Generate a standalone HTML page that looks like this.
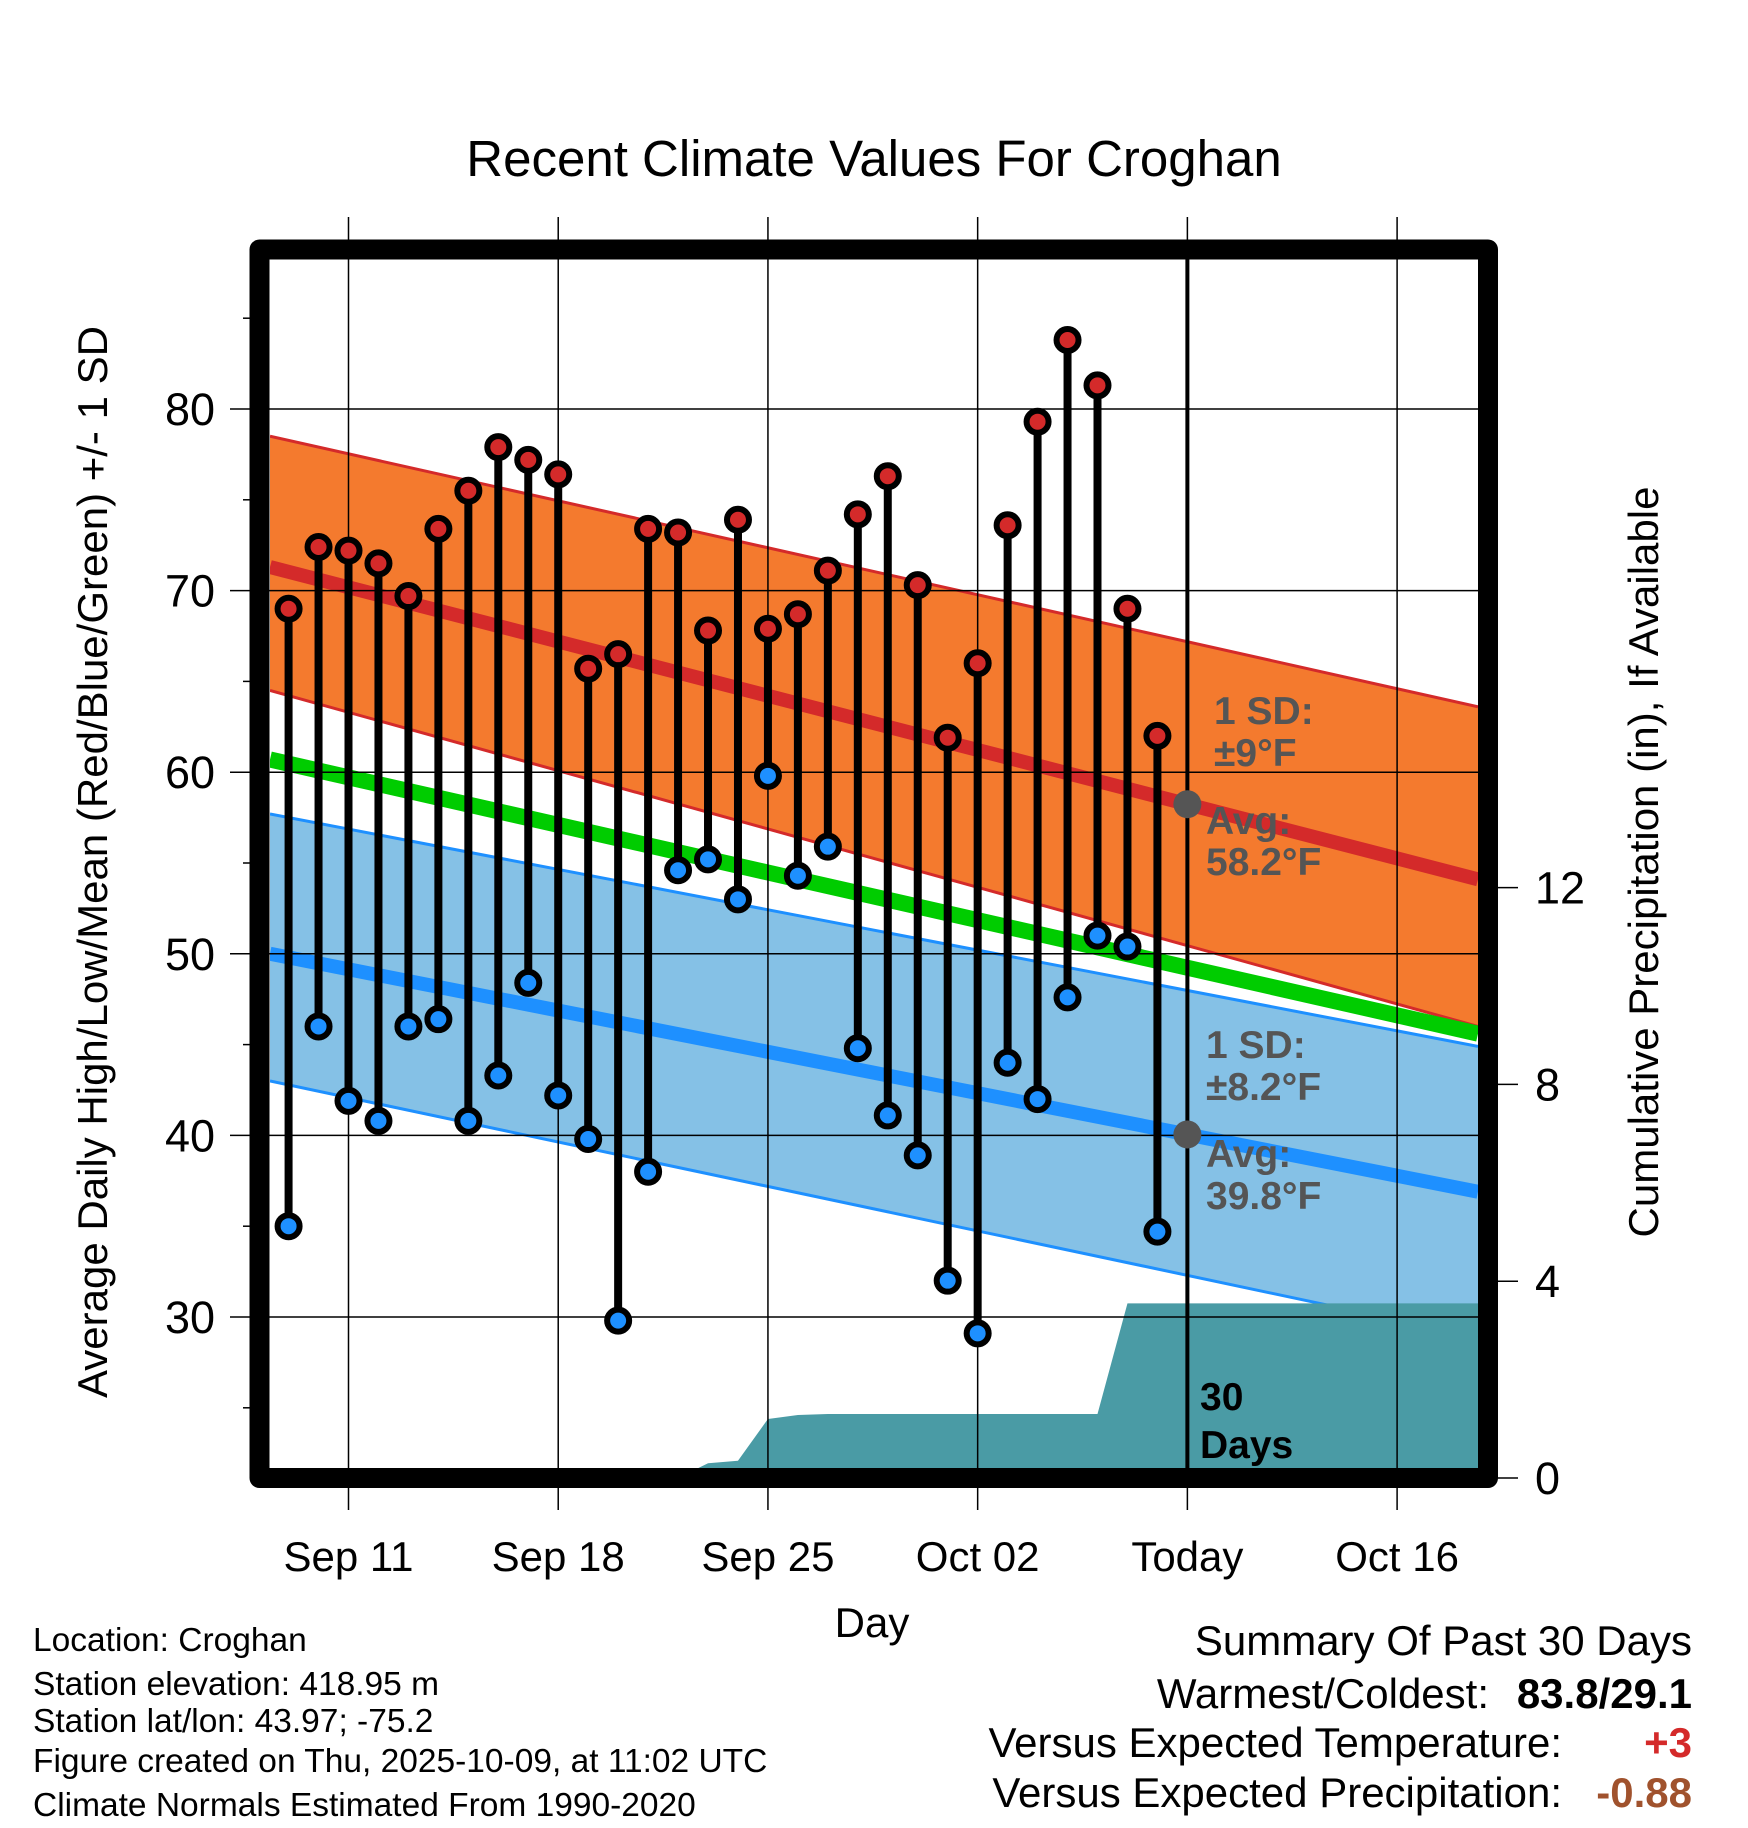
<!DOCTYPE html>
<html><head><meta charset="utf-8"><style>
html,body{margin:0;padding:0;background:#fff;}
svg{display:block;font-family:"Liberation Sans",Arial,sans-serif;}
</style></head><body>
<svg id="chart" width="1748" height="1828" viewBox="0 0 1748 1828" xmlns="http://www.w3.org/2000/svg">
<defs><clipPath id="plotclip"><rect x="270" y="260" width="1208" height="1208"/></clipPath></defs>
<text x="874" y="176" font-size="51" text-anchor="middle">Recent Climate Values For Croghan</text>
<g id="bands" clip-path="url(#plotclip)"></g>
<g id="grid"></g>
<g id="marks"></g>
<g id="axes"></g>
<rect x="259.5" y="249.5" width="1228.5" height="1228.5" fill="none" stroke="#000" stroke-width="20" stroke-linejoin="round"/>
<text transform="translate(107,862) rotate(-90)" font-size="42" text-anchor="middle">Average Daily High/Low/Mean (Red/Blue/Green) +/- 1 SD</text>
<text transform="translate(1658,862) rotate(-90)" font-size="42" text-anchor="middle">Cumulative Precipitation (in), If Available</text>
<text x="872" y="1637" font-size="42" text-anchor="middle">Day</text>
<g font-size="33.5">
<text x="33" y="1651">Location: Croghan</text>
<text x="33" y="1695">Station elevation: 418.95 m</text>
<text x="33" y="1732">Station lat/lon: 43.97; -75.2</text>
<text x="33" y="1772">Figure created on Thu, 2025-10-09, at 11:02 UTC</text>
<text x="33" y="1816">Climate Normals Estimated From 1990-2020</text>
</g>
<g font-size="42" text-anchor="end">
<text x="1692" y="1655">Summary Of Past 30 Days</text>
<text x="1489" y="1708">Warmest/Coldest:</text>
<text x="1692" y="1708" font-weight="bold">83.8/29.1</text>
<text x="1562" y="1757">Versus Expected Temperature:</text>
<text x="1692" y="1757" font-weight="bold" fill="#d42a2a">+3</text>
<text x="1562" y="1807">Versus Expected Precipitation:</text>
<text x="1692" y="1807" font-weight="bold" fill="#a0522d">-0.88</text>
</g>
</svg>
<script>
// data (day offsets relative to Sep 11)
const days = [-2,-1,0,1,2,3,4,5,6,7,8,9,10,11,12,13,14,15,16,17,18,19,20,21,22,23,24,25,26,27];
const highs = [69,72.4,72.2,71.5,69.7,73.4,75.5,77.9,77.2,76.4,65.7,66.5,73.4,73.2,67.8,73.9,67.9,68.7,71.1,74.2,76.3,70.3,61.9,66,73.6,79.3,83.8,81.3,69,62];
const lows = [35,46,41.9,40.8,46,46.4,40.8,43.3,48.4,42.2,39.8,29.8,38,54.6,55.2,53,59.8,54.3,55.9,44.8,41.1,38.9,32,29.1,44,42,47.6,51,50.4,34.7];
const precipDays = [11,12,13,14,15,16,17,18,19,20,21,22,23,24,25,26,27,28];
const precipCum = [0,0.3,0.35,1.2,1.28,1.3,1.3,1.3,1.3,1.3,1.3,1.3,1.3,1.3,1.3,3.55,3.55,3.55];
const normEdgeDays = [-2.62, 37.7];
const normHighUpper = [78.5, 63.6];
const normHigh = [71.3, 54.1];
const normHighLower = [64.5, 46.0];
const normMean = [60.7, 45.6];
const normLowUpper = [57.7, 44.9];
const normLow = [50.0, 36.9];
const normLowLower = [43.0, 28.9];
const yTicks = [30,40,50,60,70,80];
const y2Ticks = [0,4,8,12];
const xTickDays = [0,7,14,21,28,35];
const xTickLabels = ["Sep 11","Sep 18","Sep 25","Oct 02","Today","Oct 16"];
const todayDay = 28;

const NS="http://www.w3.org/2000/svg";
const X=d=>348.5+d*29.96;
const Y=v=>409+(80-v)*18.16;
const P=p=>1478-p*49.2;
function mk(tag,attrs,parent){const e=document.createElementNS(NS,tag);for(const k in attrs)e.setAttribute(k,attrs[k]);parent.appendChild(e);return e;}
const bands=document.getElementById('bands'),grid=document.getElementById('grid'),marks=document.getElementById('marks'),axes=document.getElementById('axes');
const x0=X(normEdgeDays[0]),x1=X(normEdgeDays[1]);
function band(up,lo,fill,name){const e=mk('polygon',{points:`${x0},${Y(up[0])} ${x1},${Y(up[1])} ${x1},${Y(lo[1])} ${x0},${Y(lo[0])}`,fill:fill},bands);

}
function line(a,stroke,w,name){const e=mk('line',{x1:x0,y1:Y(a[0]),x2:x1,y2:Y(a[1]),stroke:stroke,'stroke-width':w},bands);

}
band(normLowUpper,normLowLower,'#85c1e6','low-sd-band');
line(normLowUpper,'#1e90ff',3,'low-upper-line');
line(normLowLower,'#1e90ff',3,'low-lower-line');
band(normHighUpper,normHighLower,'#f47a2e','high-sd-band');
line(normHighUpper,'#d42a2a',3,'high-upper-line');
line(normHighLower,'#d42a2a',3,'high-lower-line');
line(normMean,'#00cc00',16,'mean-line');
line(normHigh,'#d42a2a',14,'high-avg-line');
line(normLow,'#1e90ff',14,'low-avg-line');
// precip
let pts=`${X(precipDays[0])},${P(0)} `;
precipDays.forEach((d,i)=>{pts+=`${X(d)},${P(precipCum[i])} `;});
pts+=`${x1},${P(precipCum[precipCum.length-1])} ${x1},${P(0)}`;
const pr=mk('polygon',{points:pts,fill:'#4a9ba5'},bands);


// grid
yTicks.forEach(v=>{const g=mk('line',{x1:230,x2:1478,y1:Y(v),y2:Y(v),stroke:'#000','stroke-width':1.5},grid);


const t=mk('text',{x:215,y:Y(v)+16,'font-size':45,'text-anchor':'end'},axes);t.textContent=v;

});
for(let v=25;v<=85;v+=5){if(v%10===0)continue;const m=mk('line',{x1:243,x2:255,y1:Y(v),y2:Y(v),stroke:'#000','stroke-width':1.5},axes);

}
xTickDays.forEach((d,i)=>{
 const g=mk('line',{x1:X(d),x2:X(d),y1:217,y2:1510,stroke:'#000','stroke-width':1.5},grid);
 
 
 const t=mk('text',{x:X(d),y:1571,'font-size':42,'text-anchor':'middle'},axes);t.textContent=xTickLabels[i];
 
 });
y2Ticks.forEach(v=>{const m=mk('line',{x1:1478,x2:1518,y1:P(v),y2:P(v),stroke:'#000','stroke-width':1.5},axes);


const t=mk('text',{x:1535,y:P(v)+16,'font-size':45},axes);t.textContent=v;

});
// today line
const tl=mk('line',{x1:X(todayDay),x2:X(todayDay),y1:255,y2:1470,stroke:'#000','stroke-width':4},marks);


// stems & dots
days.forEach((d,i)=>{const s=mk('line',{x1:X(d),x2:X(d),y1:Y(highs[i]),y2:Y(lows[i]),stroke:'#000','stroke-width':8},marks);

});
days.forEach((d,i)=>{const h=mk('circle',{cx:X(d),cy:Y(highs[i]),r:11,fill:'#d42a2a',stroke:'#000','stroke-width':6},marks);


const l=mk('circle',{cx:X(d),cy:Y(lows[i]),r:11,fill:'#1e90ff',stroke:'#000','stroke-width':6},marks);

});
// annotations
const tx=X(todayDay);
const interpH=normHigh[0]+(normHigh[1]-normHigh[0])*(todayDay-normEdgeDays[0])/(normEdgeDays[1]-normEdgeDays[0]);
const interpL=normLow[0]+(normLow[1]-normLow[0])*(todayDay-normEdgeDays[0])/(normEdgeDays[1]-normEdgeDays[0]);
[interpH,interpL].forEach(v=>{const c=mk('circle',{cx:tx,cy:Y(v),r:14,fill:'#555'},marks);

});
const ann=[["1 SD:",1214,724,'#555'],["±9°F",1214,766,'#555'],["Avg:",1206,834,'#555'],["58.2°F",1206,875,'#555'],
["1 SD:",1206,1058,'#555'],["±8.2°F",1206,1100,'#555'],["Avg:",1206,1167,'#555'],["39.8°F",1206,1209,'#555'],
["30",1200,1410,'#000'],["Days",1200,1458,'#000']];
ann.forEach(a=>{const t=mk('text',{x:a[1],y:a[2],'font-size':39,'font-weight':'bold',fill:a[3]},marks);t.textContent=a[0];

});
</script>
</body></html>
